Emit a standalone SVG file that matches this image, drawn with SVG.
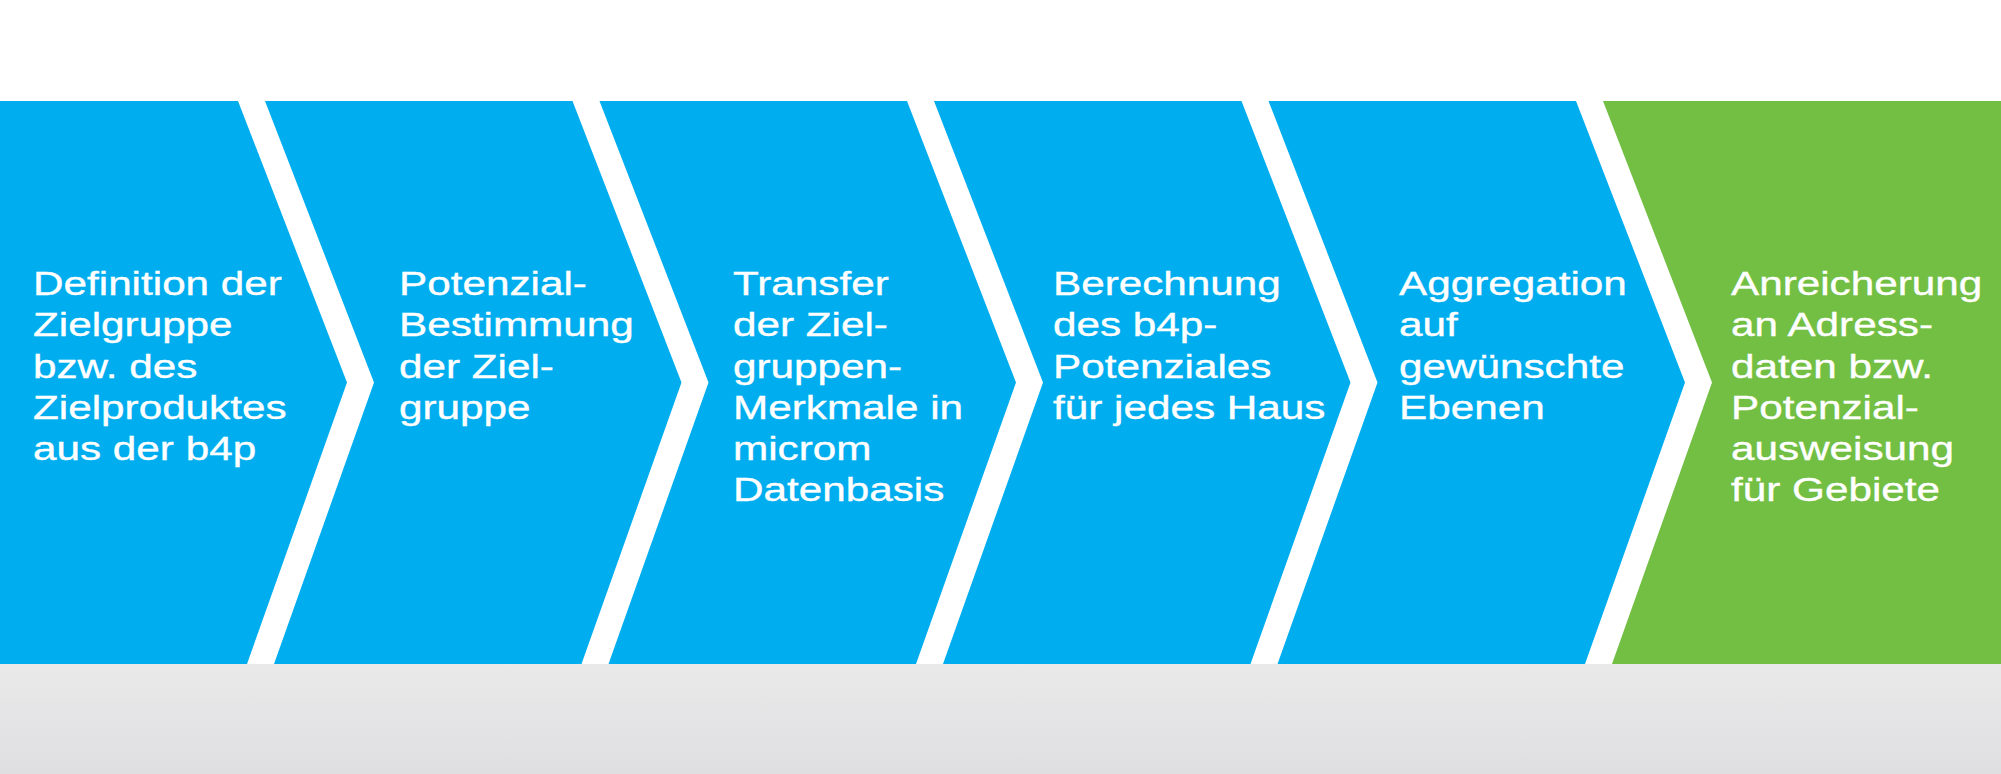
<svg xmlns="http://www.w3.org/2000/svg" width="2001" height="774" viewBox="0 0 2001 774">
<defs>
<linearGradient id="floor" x1="0" y1="0" x2="0" y2="1">
<stop offset="0" stop-color="#e9e9ea"/>
<stop offset="1" stop-color="#dfdfe1"/>
</linearGradient>
<style>
.blue{fill:#00aeef}
.green{fill:#72bf44}
.lbl{font-family:"Liberation Sans",Arial,sans-serif;font-size:32.5px;fill:#ffffff;stroke:#ffffff;stroke-width:0.35px}
</style>
</defs>
<rect x="0" y="0" width="2001" height="774" fill="#ffffff"/>
<rect x="0" y="664" width="2001" height="110" fill="url(#floor)"/>
<g id="connectors"></g>
<g id="step1">
<polygon class="blue" points="0,101 238,101 347,382.5 247,664 0,664"/>
<text class="lbl" transform="translate(33,295) scale(1.3,1)"><tspan x="0" y="0">Definition der</tspan><tspan x="0" dy="41.3">Zielgruppe</tspan><tspan x="0" dy="41.3">bzw. des</tspan><tspan x="0" dy="41.3">Zielproduktes</tspan><tspan x="0" dy="41.3">aus der b4p</tspan></text>
</g>
<g id="step2">
<polygon class="blue" points="265,101 572.5,101 681.5,382.5 581.5,664 274,664 374,382.5"/>
<text class="lbl" transform="translate(399,295) scale(1.3,1)"><tspan x="0" y="0">Potenzial-</tspan><tspan x="0" dy="41.3">Bestimmung</tspan><tspan x="0" dy="41.3">der Ziel-</tspan><tspan x="0" dy="41.3">gruppe</tspan></text>
</g>
<g id="step3">
<polygon class="blue" points="599.5,101 907,101 1016,382.5 916,664 608.5,664 708.5,382.5"/>
<text class="lbl" transform="translate(733,295) scale(1.3,1)"><tspan x="0" y="0">Transfer</tspan><tspan x="0" dy="41.3">der Ziel-</tspan><tspan x="0" dy="41.3">gruppen-</tspan><tspan x="0" dy="41.3">Merkmale in</tspan><tspan x="0" dy="41.3">microm</tspan><tspan x="0" dy="41.3">Datenbasis</tspan></text>
</g>
<g id="step4">
<polygon class="blue" points="934,101 1241.5,101 1350.5,382.5 1250.5,664 943,664 1043,382.5"/>
<text class="lbl" transform="translate(1053,295) scale(1.3,1)"><tspan x="0" y="0">Berechnung</tspan><tspan x="0" dy="41.3">des b4p-</tspan><tspan x="0" dy="41.3">Potenziales</tspan><tspan x="0" dy="41.3">für jedes Haus</tspan></text>
</g>
<g id="step5">
<polygon class="blue" points="1268.5,101 1576,101 1685,382.5 1585,664 1277.5,664 1377.5,382.5"/>
<text class="lbl" transform="translate(1399,295) scale(1.3,1)"><tspan x="0" y="0">Aggregation</tspan><tspan x="0" dy="41.3">auf</tspan><tspan x="0" dy="41.3">gewünschte</tspan><tspan x="0" dy="41.3">Ebenen</tspan></text>
</g>
<g id="step6">
<polygon class="green" points="1603,101 2001,101 2001,664 1612,664 1712,382.5"/>
<text class="lbl" transform="translate(1731,295) scale(1.3,1)"><tspan x="0" y="0">Anreicherung</tspan><tspan x="0" dy="41.3">an Adress-</tspan><tspan x="0" dy="41.3">daten bzw.</tspan><tspan x="0" dy="41.3">Potenzial-</tspan><tspan x="0" dy="41.3">ausweisung</tspan><tspan x="0" dy="41.3">für Gebiete</tspan></text>
</g>
</svg>
